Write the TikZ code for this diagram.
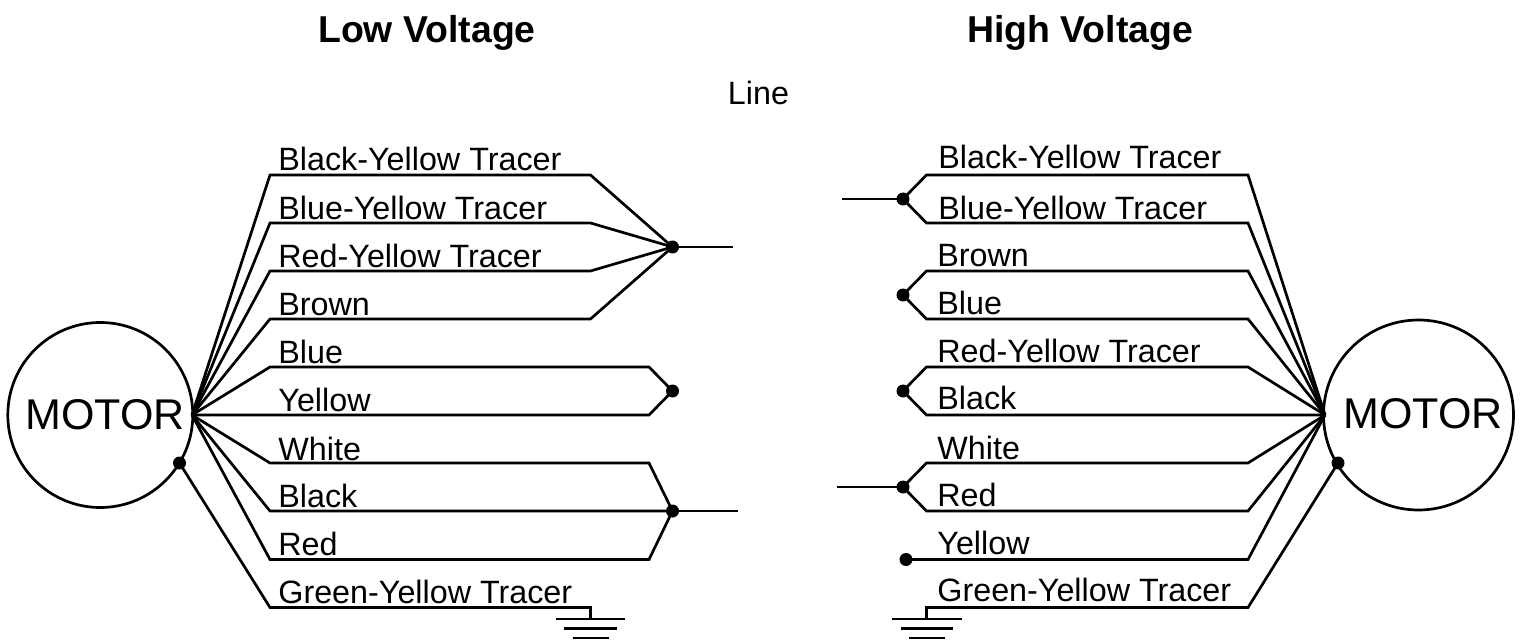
\documentclass[tikz,border=0pt]{standalone}
\usepackage{fontspec}
\setmainfont{Liberation Sans}
\begin{document}
\begin{tikzpicture}[x=0.5pt,y=-0.5pt,
  wire/.style={line width=1.35pt,line join=miter},
  dotnode/.style={circle,fill=black,inner sep=0pt,minimum size=6.5pt},
  motor/.style={circle,draw,line width=1.35pt,inner sep=0pt},
  motorlabel/.style={font=\fontsize{21.5}{24}\selectfont,inner sep=0pt},
  lbl/.style={font=\fontsize{16.15}{18}\selectfont,anchor=base west,inner sep=0pt,yshift=-0.8pt},
  ttl/.style={font=\fontsize{18.7}{22}\selectfont\bfseries,anchor=base,inner sep=0pt}]
\useasboundingbox (0,0) rectangle (1524,641);
% titles
\node[ttl] (tl) at (427,42.5) {Low Voltage};
\node[ttl] (th) at (1080,42.5) {High Voltage};
\node[lbl,anchor=base] (line) at (758.5,103) {Line};
% motors
\node[motor,minimum size=92.5pt] (ml) at (100.3,415) {};
\node[motor,minimum size=95pt] (mr) at (1418.5,415) {};
\node[motorlabel] at (105,414.5) {MOTOR};
\node[motorlabel] at (1423,413.5) {MOTOR};
\coordinate (hl) at (192,415);
\coordinate (hr) at (1325,415);
\node[dotnode] (gl) at (179.5,463) {};
\node[dotnode] (gr) at (1338,463) {};
% left junctions
\node[dotnode] (j1) at (672.5,247) {};
\node[dotnode] (j2) at (672.5,391) {};
\node[dotnode] (j3) at (672.5,511) {};
\coordinate (o1) at (733,247);
\coordinate (o3) at (738,511);
% right junctions
\node[dotnode] (k1) at (903,199) {};
\node[dotnode] (k2) at (903,295) {};
\node[dotnode] (k3) at (903,391) {};
\node[dotnode] (k4) at (903,487) {};
\node[dotnode] (k5) at (906,559.5) {};
\coordinate (p1) at (842,199);
\coordinate (p4) at (837,487);
% left wires
\draw[wire] (hl) -- (270,175) -- (590.5,175) -- (j1.center);
\draw[wire] (hl) -- (270,223) -- (590.5,223) -- (j1.center);
\draw[wire] (hl) -- (270,271) -- (590.5,271) -- (j1.center);
\draw[wire] (hl) -- (270,319) -- (590.5,319) -- (j1.center);
\draw[wire] (j1.center) -- (o1);
\draw[wire] (hl) -- (270,367) -- (649,367) -- (j2.center);
\draw[wire] (hl) -- (270,415) -- (649,415) -- (j2.center);
\draw[wire] (hl) -- (270,463) -- (649,463) -- (j3.center);
\draw[wire] (hl) -- (270,511) -- (j3.center);
\draw[wire] (hl) -- (270,559.5) -- (649,559.5) -- (j3.center);
\draw[wire] (j3.center) -- (o3);
\draw[wire] (gl.center) -- (270,607.5) -- (590.5,607.5) -- (590.5,619);
\draw[wire] (555.5,619) -- (625,619);
\draw[wire] (564,628.5) -- (617,628.5);
\draw[wire] (572.5,638) -- (609,638);
% right wires
\draw[wire] (hr) -- (1248,175) -- (926.5,175) -- (k1.center);
\draw[wire] (hr) -- (1248,223) -- (926.5,223) -- (k1.center);
\draw[wire] (k1.center) -- (p1);
\draw[wire] (hr) -- (1248,271) -- (926.5,271) -- (k2.center);
\draw[wire] (hr) -- (1248,319) -- (926.5,319) -- (k2.center);
\draw[wire] (hr) -- (1248,367) -- (926.5,367) -- (k3.center);
\draw[wire] (hr) -- (1248,415) -- (926.5,415) -- (k3.center);
\draw[wire] (hr) -- (1248,463) -- (926.5,463) -- (k4.center);
\draw[wire] (hr) -- (1248,511) -- (926.5,511) -- (k4.center);
\draw[wire] (k4.center) -- (p4);
\draw[wire] (hr) -- (1248,559.5) -- (k5.center);
\draw[wire] (gr.center) -- (1248,607.5) -- (926.5,607.5) -- (926.5,619);
\draw[wire] (892,619) -- (962,619);
\draw[wire] (901,628.5) -- (953,628.5);
\draw[wire] (909,638) -- (945,638);
% left labels
\node[lbl] (a1) at (278,169) {Black-Yellow Tracer};
\node[lbl] (a2) at (278,218) {Blue-Yellow Tracer};
\node[lbl] (a3) at (278,266) {Red-Yellow Tracer};
\node[lbl] (a4) at (278,314) {Brown};
\node[lbl] (a5) at (278,362) {Blue};
\node[lbl] (a6) at (278,410) {Yellow};
\node[lbl] (a7) at (278,459) {White};
\node[lbl] (a8) at (278,506) {Black};
\node[lbl] (a9) at (278,554) {Red};
\node[lbl] (a10) at (278,602) {Green-Yellow Tracer};
% right labels
\node[lbl] (b1) at (938,167) {Black-Yellow Tracer};
\node[lbl] (b2) at (938,218) {Blue-Yellow Tracer};
\node[lbl] (b3) at (937,265) {Brown};
\node[lbl] (b4) at (937,313) {Blue};
\node[lbl] (b5) at (937,361) {Red-Yellow Tracer};
\node[lbl] (b6) at (937,408) {Black};
\node[lbl] (b7) at (937,458) {White};
\node[lbl] (b8) at (937,505) {Red};
\node[lbl] (b9) at (937,553) {Yellow};
\node[lbl] (b10) at (937,600) {Green-Yellow Tracer};
\end{tikzpicture}
\end{document}
